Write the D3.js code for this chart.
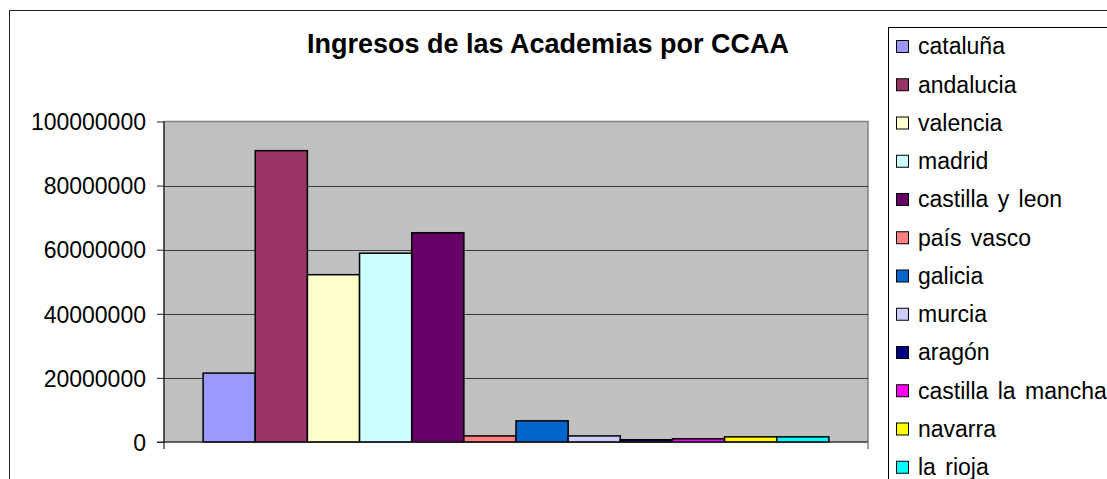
<!DOCTYPE html>
<html>
<head>
<meta charset="utf-8">
<script src="https://cdn.jsdelivr.net/npm/d3@7"></script>
<style>
  body { margin: 0; background: #fff; }
  svg { display: block; font-family: "Liberation Sans", Arial, sans-serif; }
</style>
</head>
<body>
<svg id="chart" width="1107" height="479"></svg>
<script>
// data
const regions = ["cataluña", "andalucia", "valencia", "madrid", "castilla y leon", "país vasco",
                 "galicia", "murcia", "aragón", "castilla la mancha", "navarra", "la rioja"];
const ingresos = [21500000, 90900000, 52200000, 58900000, 65300000, 1900000,
                  6600000, 1900000, 700000, 1000000, 1600000, 1600000];
const colors = ["#9999FF", "#993366", "#FFFFCC", "#CCFFFF", "#660066", "#FF8080",
                "#0066CC", "#CCCCFF", "#000080", "#FF00FF", "#FFFF00", "#00FFFF"];
const yTicks = [0, 20000000, 40000000, 60000000, 80000000, 100000000];
const title = "Ingresos de las Academias por CCAA";

const plot = {left: 164, right: 868, top: 121.5, bottom: 442};

var svg = d3.select("#chart");

// outer chart border
svg.append("rect")
  .attr("x", 9.5).attr("y", 10.5)
  .attr("width", 1300).attr("height", 700)
  .attr("fill", "none")
  .attr("stroke", "#222");

// title
svg.append("text")
  .attr("x", 548).attr("y", 53)
  .attr("text-anchor", "middle")
  .attr("font-size", "27px")
  .attr("font-weight", "bold")
  .text(title);

var y = d3.scaleLinear().domain([0, 100000000]).range([plot.bottom, plot.top]);
// one category, twelve series side by side, gap width 150%
var x = d3.scaleBand().domain(regions)
  .range([plot.left, plot.right])
  .paddingInner(0).paddingOuter(0.75);

// plot area
svg.append("rect")
  .attr("x", plot.left).attr("y", plot.top)
  .attr("width", plot.right - plot.left).attr("height", plot.bottom - plot.top)
  .attr("fill", "#C0C0C0")
  .attr("stroke", "#808080")
  .attr("stroke-width", 1.5);

// gridlines
svg.append("g").selectAll("line")
  .data(yTicks.filter(d => d > 0 && d < 100000000))
  .enter().append("line")
  .attr("x1", plot.left).attr("x2", plot.right)
  .attr("y1", d => Math.round(y(d)) + 0.5).attr("y2", d => Math.round(y(d)) + 0.5)
  .attr("stroke", "#3a3a3a")
  .attr("stroke-width", 1);

// bars
svg.append("g").selectAll("rect")
  .data(ingresos)
  .enter().append("rect")
  .attr("x", (d, i) => x(regions[i]))
  .attr("y", d => y(d))
  .attr("width", x.bandwidth())
  .attr("height", d => plot.bottom - y(d))
  .attr("fill", (d, i) => colors[i])
  .attr("stroke", "#000")
  .attr("stroke-width", 1.5);

// y axis
var yAxis = svg.append("g")
  .attr("transform", "translate(" + plot.left + ",0)")
  .call(d3.axisLeft(y).tickValues(yTicks).tickFormat(d3.format("d")).tickSize(7).tickPadding(11));
yAxis.select(".domain").remove();
yAxis.selectAll("line").attr("stroke", "#222");
yAxis.selectAll("text")
  .attr("font-size", "23px")
  .attr("font-family", "Liberation Sans, Arial, sans-serif")
  .attr("fill", "#000")
  .attr("dy", "0.36em");

svg.append("line")
  .attr("x1", plot.left).attr("x2", plot.left)
  .attr("y1", plot.top).attr("y2", plot.bottom + 7)
  .attr("stroke", "#222").attr("stroke-width", 1.2);

// x axis line with end ticks
svg.append("line")
  .attr("x1", plot.left - 7).attr("x2", plot.right)
  .attr("y1", plot.bottom).attr("y2", plot.bottom)
  .attr("stroke", "#222").attr("stroke-width", 1.2);
svg.append("line")
  .attr("x1", plot.right).attr("x2", plot.right)
  .attr("y1", plot.bottom).attr("y2", plot.bottom + 7)
  .attr("stroke", "#808080").attr("stroke-width", 1.5);

// legend
var legend = svg.append("g");
legend.append("rect")
  .attr("x", 888.5).attr("y", 27.5)
  .attr("width", 400).attr("height", 600)
  .attr("fill", "#fff")
  .attr("stroke", "#000");

var items = legend.selectAll(".item")
  .data(regions)
  .enter().append("g")
  .attr("class", "item")
  .attr("transform", (d, i) => "translate(0," + (47 + 38.25 * i) + ")");
items.append("rect")
  .attr("x", 896.5).attr("y", -6.5)
  .attr("width", 12).attr("height", 12)
  .attr("fill", (d, i) => colors[i])
  .attr("stroke", "#000");
items.append("text")
  .attr("x", 918).attr("y", 7.3)
  .attr("font-size", "23px")
  .attr("word-spacing", "3px")
  .text(d => d);
</script>
</body>
</html>
